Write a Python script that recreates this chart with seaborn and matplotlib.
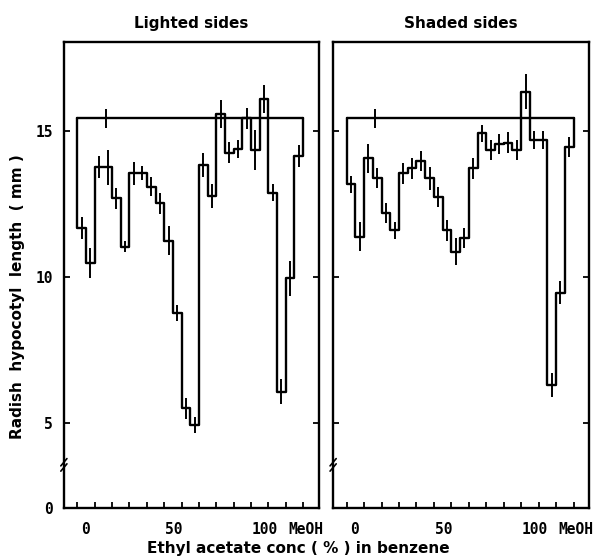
import numpy as np
import pandas as pd
import seaborn as sns
import matplotlib.pyplot as plt
import matplotlib.transforms as mtransforms

# hypocotyl length (mm) per fraction, 26 fractions along the gradient
control = 15.43
control_err = 0.31
lighted = [11.68, 10.47, 13.76, 13.76, 12.69, 11.04, 13.55, 13.55, 13.10, 12.52,
           11.24, 8.76, 5.50, 4.93, 13.84, 12.77, 15.60, 14.26, 14.40, 15.43,
           14.35, 16.10, 12.89, 6.07, 9.95, 14.14]
lighted_err = [0.37, 0.51, 0.37, 0.60, 0.37, 0.20, 0.40, 0.24, 0.34, 0.37,
               0.50, 0.27, 0.37, 0.26, 0.40, 0.40, 0.48, 0.37, 0.31, 0.36,
               0.68, 0.48, 0.28, 0.43, 0.60, 0.37]
shaded = [13.17, 11.38, 14.06, 13.40, 12.20, 11.60, 13.55, 13.72, 13.98, 13.38,
          12.75, 11.60, 10.87, 11.33, 13.72, 14.92, 14.35, 14.55, 14.60, 14.35,
          16.35, 14.69, 14.69, 6.30, 9.46, 14.46]
shaded_err = [0.30, 0.50, 0.50, 0.35, 0.35, 0.30, 0.35, 0.35, 0.35, 0.40,
              0.35, 0.35, 0.45, 0.35, 0.35, 0.30, 0.35, 0.35, 0.35, 0.35,
              0.60, 0.30, 0.30, 0.40, 0.40, 0.35]
titles = ["Lighted sides", "Shaded sides"]
xlabels = ["0", "50", "100", "MeOH"]
ylabels = ["0", "5", "10", "15"]

sns.set_style("ticks", {"axes.edgecolor": "black", "text.color": "black",
                        "xtick.color": "black", "ytick.color": "black",
                        "axes.labelcolor": "black"})
plt.rcParams['font.family'] = ['DejaVu Sans']
plt.rcParams['font.weight'] = 'bold'

fig = plt.figure(figsize=(5.97, 5.60), dpi=100)
ax1 = fig.add_axes([0.107, 0.093, 0.427, 0.832])
ax2 = fig.add_axes([0.558, 0.093, 0.429, 0.832])

ybot = 2.09
n = len(lighted)

for ax, vals, errs, title in [(ax1, lighted, lighted_err, titles[0]),
                              (ax2, shaded, shaded_err, titles[1])]:
    xs = [0] + list(range(n + 1)) + [n]
    ys = [control] + list(vals) + [vals[-1], control]
    df = pd.DataFrame({"x": xs, "y": ys})
    sns.lineplot(data=df, x="x", y="y", ax=ax, color="black", lw=1.7,
                 drawstyle="steps-post", estimator=None, sort=False)
    ctrl = pd.DataFrame({"x": [0, n], "y": [control, control]})
    sns.lineplot(data=ctrl, x="x", y="y", ax=ax, color="black", lw=1.7,
                 estimator=None, sort=False)
    centers = np.arange(n) + 0.5
    ax.errorbar(centers, vals, yerr=errs, fmt="none", ecolor="black",
                elinewidth=1.4, capsize=0)
    ax.errorbar([3.3], [control], yerr=[control_err], fmt="none",
                ecolor="black", elinewidth=1.4, capsize=0)

    ax.set_xlim(-1.55, 27.8)
    ax.set_ylim(ybot, 18.05)
    ax.set_xticks([0.9, 11.15, 21.6, 26.3], xlabels,
                  family="DejaVu Sans Mono", fontweight="bold")
    ax.set_xticks(range(0, n + 1, 2), minor=True)
    ax.tick_params(axis="x", which="major", length=0, pad=10, labelsize=10.5)
    ax.tick_params(axis="x", which="minor", direction="in", length=4, width=1.3)
    ax.set_yticks([ybot, 5, 10, 15], ylabels,
                  family="DejaVu Sans Mono", fontweight="bold")
    ax.tick_params(axis="y", direction="in", length=4, width=1.3,
                   right=True, labelsize=10.5, pad=8)
    ax.set_xlabel("")
    ax.set_ylabel("")
    ax.set_title(title, fontsize=11, fontweight="bold", pad=10)
    for s in ax.spines.values():
        s.set_visible(True)
        s.set_linewidth(1.7)
        s.set_color("black")
    # axis break mark
    tr = mtransforms.blended_transform_factory(ax.transAxes, ax.transData)
    for dy in (0.0, 0.18):
        ax.plot([-0.012, 0.012], [3.35 + dy, 3.6 + dy], transform=tr,
                color="black", lw=1.2, clip_on=False)

ax2.tick_params(axis="y", labelleft=False)

fig.text(0.03, 0.47, "Radish  hypocotyl  length  ( mm )", rotation=90,
         ha="center", va="center", fontsize=11, fontweight="bold")
fig.text(0.5, 0.02, "Ethyl acetate conc ( % ) in benzene",
         ha="center", va="center", fontsize=11, fontweight="bold")

fig.savefig("out.png", dpi=100)
